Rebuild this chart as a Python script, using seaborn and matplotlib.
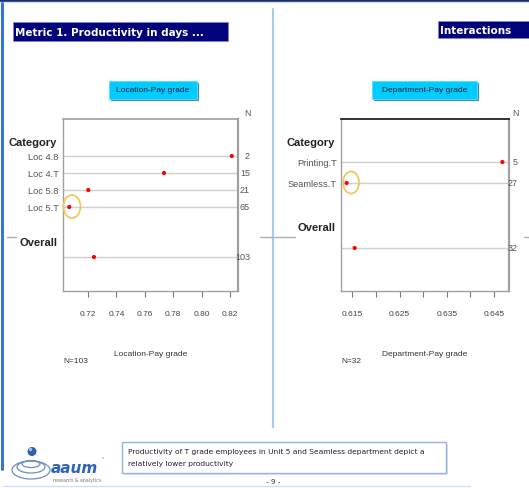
import numpy as np
import pandas as pd
import matplotlib
matplotlib.use("Agg")
import matplotlib.pyplot as plt
from matplotlib.patches import Rectangle, Ellipse
from matplotlib.lines import Line2D
import seaborn as sns

# ---- data -------------------------------------------------------------
loc_categories = ["Loc 4.8", "Loc 4.T", "Loc 5.8", "Loc 5.T"]
loc_values = [0.8212, 0.7735, 0.7202, 0.7068]
loc_counts = [2, 15, 21, 65]
loc_overall = 0.7242
loc_overall_n = 103
loc_ticks = [0.72, 0.74, 0.76, 0.78, 0.80, 0.82]

dept_categories = ["Printing.T", "Seamless.T"]
dept_values = [0.6468, 0.6138]
dept_counts = [5, 27]
dept_overall = 0.6155
dept_overall_n = 32
dept_ticks = [0.615, 0.620, 0.625, 0.630, 0.635, 0.640, 0.645]
dept_tick_labels = ["0.615", "", "0.625", "", "0.635", "", "0.645"]

# ---- page setup -------------------------------------------------------
W, H = 529, 489
sns.set_theme(style="white")
plt.rcParams["font.family"] = ["Liberation Sans", "DejaVu Sans"]

fig = plt.figure(figsize=(W / 100, H / 100), dpi=100)
fig.patch.set_facecolor("white")


def frac_rect(x, y, w, h):
    return [x / W, 1 - (y + h) / H, w / W, h / H]


def fx(x):
    return x / W


def fy(y):
    return 1 - y / H


def hline(x0, x1, y, **kw):
    fig.add_artist(Line2D([fx(x0), fx(x1)], [fy(y), fy(y)], transform=fig.transFigure, **kw))


def vline(x, y0, y1, **kw):
    fig.add_artist(Line2D([fx(x), fx(x)], [fy(y0), fy(y1)], transform=fig.transFigure, **kw))


# slide frame
hline(0, W, 1.2, color="#1c2f6b", lw=2.2)
hline(0, W, 3.2, color="#cfe0f5", lw=1.0)
vline(1.5, 4, 470, color="#3b74d9", lw=2.2)
vline(273, 10, 428, color="#a9c9ef", lw=1.6)
hline(7, 16, 237.5, color="#b0b0b0", lw=1.0)
hline(260, 295, 237.5, color="#b0b0b0", lw=1.0)
hline(524, 529, 237.5, color="#b0b0b0", lw=1.0)
hline(3, 470, 487, color="#cfe0f5", lw=1.0)

# section title bars
for (x, y, w, h, label) in [(13, 23, 215, 19, "Metric 1. Productivity in days ..."),
                            (438, 22, 92, 17, "Interactions")]:
    fig.add_artist(Rectangle((fx(x), fy(y + h)), w / W, h / H, transform=fig.transFigure,
                             facecolor="#02027a", edgecolor="#7f86c8", lw=0.6))
    fig.text(fx(x + 2), fy(y + h / 2), label, color="white", fontsize=7.5,
             fontweight="bold", family="DejaVu Sans", va="center", ha="left")

# panel buttons
for (x, y, w, h, label) in [(109, 82, 88, 18, "Location-Pay grade"),
                            (372, 82, 105, 18, "Department-Pay grade")]:
    fig.add_artist(Rectangle((fx(x + 1.5), fy(y + h + 1.5)), w / W, h / H,
                             transform=fig.transFigure, facecolor="#3d8fb8",
                             edgecolor="none"))
    fig.add_artist(Rectangle((fx(x), fy(y + h)), w / W, h / H, transform=fig.transFigure,
                             facecolor="#00ccff", edgecolor="#55ddff", lw=0.6))
    fig.text(fx(x + w / 2), fy(y + h / 2), label, color="#1a1a3a", fontsize=6.0,
             va="center", ha="center")


# ---- dot panels -------------------------------------------------------
def dot_panel(rect, cats, vals, counts, overall, overall_n, xlim, ticks, tick_labels,
              xlabel, first_row, spacing, overall_row, cat_hdr, overall_hdr,
              n_offset, top_color):
    ax = fig.add_axes(frac_rect(*rect))
    height = rect[3]
    rows = [first_row + i * spacing for i in range(len(cats))]
    df = pd.DataFrame({"value": list(vals) + [overall],
                       "row": rows + [overall_row]})
    for r in df["row"]:
        ax.axhline(r, color="#cfcfcf", lw=1.0, zorder=1)
    sns.scatterplot(data=df, x="value", y="row", color="#ff0000", s=9,
                    edgecolor="none", ax=ax, zorder=3, legend=False)
    ax.set_xlim(*xlim)
    ax.set_ylim(height, 0)
    ax.set_yticks(rows + [overall_row])
    ax.set_yticklabels(cats + [""], fontsize=6.7, color="#555555")
    ax.tick_params(axis="y", length=0, pad=3)
    ax.set_xticks(ticks)
    ax.set_xticklabels(tick_labels, fontsize=6.0, color="#444444")
    ax.tick_params(axis="x", length=4, width=0.8, color="#777777", pad=10,
                   bottom=True, direction="out")
    ax.set_ylabel("")
    ax.set_xlabel(xlabel, fontsize=6.0, color="#333333")
    ax.xaxis.set_label_coords(0.5, -(355 - 292) / height)
    ax.xaxis.label.set_va("center")
    for side in ["left", "right", "bottom"]:
        ax.spines[side].set_color("#a0a0a0")
        ax.spines[side].set_linewidth(1.0)
    ax.spines["right"].set_linewidth(1.6)
    ax.spines["top"].set_color(top_color)
    ax.spines["top"].set_linewidth(1.2)

    # headers to the left of the rows
    for txt, r in [("Category", cat_hdr), ("Overall", overall_hdr)]:
        ax.annotate(txt, xy=(0, r), xycoords=("axes fraction", "data"),
                    xytext=(-6, 0), textcoords="offset pixels", ha="right",
                    va="center", fontsize=8.0, fontweight="bold", color="#222222")
    # group sizes on the right
    ax.annotate("N", xy=(1, 1), xycoords="axes fraction", xytext=(n_offset - 3, 2),
                textcoords="offset pixels", ha="center", va="bottom", fontsize=6.3,
                color="#555555")
    for r, n in zip(rows + [overall_row], list(counts) + [overall_n]):
        ax.annotate(str(n), xy=(1, r), xycoords=("axes fraction", "data"),
                    xytext=(n_offset, 0), textcoords="offset pixels", ha="right",
                    va="center", fontsize=6.5, color="#555555")
    ax.text(0, -(362 - 292) / height, f"N={overall_n}", transform=ax.transAxes,
            ha="left", va="center", fontsize=6.0, color="#333333")
    return ax


ax1 = dot_panel((63, 120, 175, 172), loc_categories, loc_values, loc_counts,
                loc_overall, loc_overall_n, (0.7024, 0.8256), loc_ticks,
                [f"{t:.2f}" for t in loc_ticks], "Location-Pay grade",
                37, 17, 138, 23, 123, 12, "#a0a0a0")
ax2 = dot_panel((341, 120, 168, 172), dept_categories, dept_values, dept_counts,
                dept_overall, dept_overall_n, (0.6126, 0.6482), dept_ticks,
                dept_tick_labels, "Department-Pay grade",
                43, 21, 129, 23, 108, 9, "#111111")

# highlight the lowest performers
for (cx, cy, w, h) in [(72, 207.5, 17, 23), (351, 183.5, 16, 22)]:
    fig.add_artist(Ellipse((fx(cx), fy(cy)), w / W, h / H, transform=fig.transFigure,
                           facecolor="none", edgecolor="#f0c862", lw=1.3))

# ---- footer -----------------------------------------------------------
fig.add_artist(Rectangle((fx(123.5), fy(475.5)), 324 / W, 31 / H, transform=fig.transFigure,
                         facecolor="#dde6f2", edgecolor="none"))
fig.add_artist(Rectangle((fx(122), fy(474)), 324 / W, 31 / H, transform=fig.transFigure,
                         facecolor="white", edgecolor="#95b3dc", lw=1.0))
foot = dict(fontsize=5.4, family="DejaVu Sans", color="#2a1a3a", va="center", ha="left")
fig.text(fx(128), fy(452.5),
         "Productivity of T grade employees in Unit 5 and Seamless department depict a", **foot)
fig.text(fx(128), fy(464.5), "relatively lower productivity", **foot)
fig.text(fx(273), fy(482), "- 9 -", fontsize=5.2, family="DejaVu Sans",
         color="#333333", ha="center", va="center")

# logo
for (cx, cy, w, h) in [(31, 471, 38, 18), (31, 468, 28, 12), (31, 465, 18, 7)]:
    fig.add_artist(Ellipse((fx(cx), fy(cy)), w / W, h / H, transform=fig.transFigure,
                           facecolor="none", edgecolor="#6f8fb8", lw=0.9))
fig.add_artist(Ellipse((fx(32), fy(452.5)), 9 / W, 9 / H, transform=fig.transFigure,
                       facecolor="#2e5fa8", edgecolor="none"))
fig.add_artist(Ellipse((fx(30.5), fy(450.5)), 3.5 / W, 3.5 / H, transform=fig.transFigure,
                       facecolor="#9cc0ea", edgecolor="none"))
fig.text(fx(51), fy(469), "aaum", fontsize=11, fontweight="bold", style="italic",
         family="DejaVu Sans", color="#2f62b8", ha="left", va="center")
fig.text(fx(101), fy(462), "\u00b0", fontsize=3.5, family="DejaVu Sans", color="#2f62b8",
         ha="left", va="bottom")
fig.text(fx(53), fy(480.5), "research & analytics", fontsize=3.4, family="DejaVu Sans",
         color="#777777", ha="left", va="center")

fig.savefig("out.png", dpi=100, facecolor="white")
